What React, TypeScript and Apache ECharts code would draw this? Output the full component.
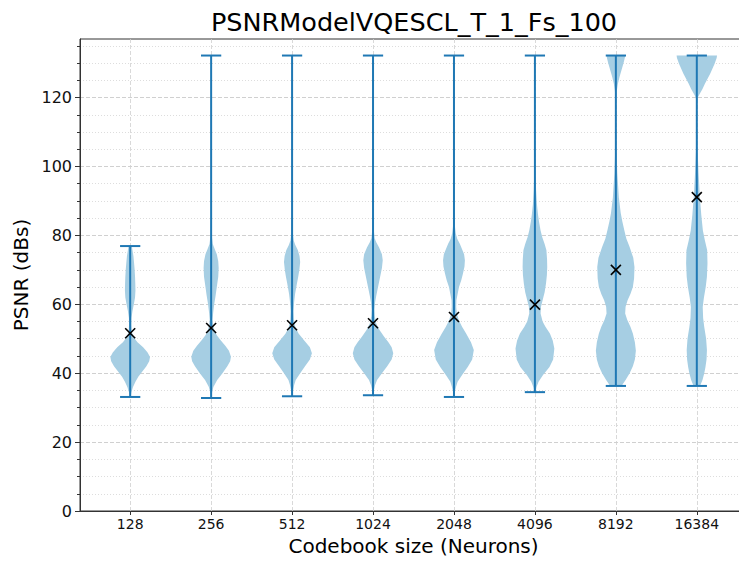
import React, { useEffect, useRef } from "react";
import * as echarts from "echarts";

// ---- data ----
const chartTitle = "PSNRModelVQESCL_T_1_Fs_100";
const categories = ["128", "256", "512", "1024", "2048", "4096", "8192", "16384"];
const positions = [1, 2, 3, 4, 5, 6, 7, 8];
const minValues = [33.1, 32.8, 33.3, 33.6, 33.1, 34.5, 36.3, 36.3];
const maxValues = [76.9, 132.2, 132.2, 132.2, 132.2, 132.2, 132.2, 132.2];
const meanValues = [51.6, 53.1, 53.9, 54.5, 56.3, 59.9, 70.0, 91.1];
const yTickValues = [0, 20, 40, 60, 80, 100, 120];

// density profiles: [PSNR, half width (in category units)]
const profile128 = [[33.1,0.005],[34.5,0.015],[36,0.035],[37.5,0.065],[39,0.1],[40.5,0.15],[42,0.2],[43.5,0.235],[44.7,0.245],[46,0.215],[47.5,0.16],[49,0.09],[50.5,0.04],[52,0.02],[54,0.014],[56,0.016],[58,0.028],[60,0.045],[62,0.06],[64,0.065],[66,0.063],[68,0.06],[70,0.055],[72,0.048],[74,0.04],[75.5,0.03],[76.9,0.02]];
const profile256 = [[32.8,0.004],[34.5,0.012],[36,0.028],[38,0.075],[40,0.14],[42,0.2],[43.5,0.235],[44.8,0.245],[46.5,0.22],[48,0.175],[49.5,0.12],[51,0.07],[52.5,0.04],[54,0.025],[55.5,0.018],[57.5,0.025],[60,0.038],[62.5,0.055],[65,0.07],[68,0.088],[70.5,0.093],[72.5,0.088],[74.5,0.07],[76,0.045],[77.5,0.02],[80,0.008],[85,0.004],[132.2,0.003]];
const profile512 = [[33.3,0.004],[35,0.012],[36.5,0.025],[38,0.045],[40,0.1],[42,0.16],[44,0.22],[45.8,0.245],[47.5,0.22],[49.5,0.15],[51.5,0.08],[53.4,0.04],[55.5,0.022],[58,0.018],[60.5,0.025],[63,0.037],[66,0.06],[68,0.076],[70,0.09],[72.3,0.1],[74,0.092],[75.7,0.072],[77.2,0.04],[78.5,0.02],[81,0.008],[86,0.004],[132.2,0.003]];
const profile1024 = [[33.6,0.004],[35,0.01],[36.5,0.025],[38,0.05],[40,0.11],[42,0.175],[44,0.23],[45.8,0.25],[47.5,0.23],[49,0.19],[50.5,0.14],[52.5,0.08],[54.4,0.04],[56.5,0.022],[58.5,0.018],[60.5,0.025],[62.5,0.04],[65,0.062],[68,0.088],[70.5,0.11],[72.8,0.12],[74.5,0.11],[76.5,0.075],[78,0.04],[79.2,0.02],[82,0.008],[87,0.004],[132.2,0.003]];
const profile2048 = [[33.1,0.004],[34.5,0.01],[36,0.025],[37.5,0.045],[39.5,0.1],[41.8,0.17],[44,0.225],[46.7,0.245],[49,0.21],[51.5,0.15],[53.5,0.1],[55.4,0.06],[57.3,0.035],[59.2,0.028],[61.2,0.03],[63,0.045],[65,0.062],[67,0.09],[69,0.112],[71,0.13],[72.8,0.135],[74.5,0.125],[76,0.1],[77.6,0.072],[79,0.04],[80.6,0.022],[83,0.01],[88,0.005],[132.2,0.003]];
const profile4096 = [[34.5,0.008],[36,0.02],[37.5,0.045],[39.5,0.1],[41.8,0.18],[44,0.225],[47.2,0.24],[49.5,0.22],[51.5,0.185],[53.5,0.13],[55,0.095],[57.3,0.07],[59.3,0.075],[61.2,0.095],[63.5,0.12],[66,0.137],[68.5,0.148],[70.8,0.152],[73,0.15],[75.7,0.142],[77.5,0.12],[79.5,0.09],[81.4,0.07],[84,0.05],[86.3,0.037],[89,0.025],[93,0.015],[98,0.008],[105,0.004],[132.2,0.003]];
const profile8192 = [[36.3,0.07],[38,0.12],[40,0.17],[42,0.21],[44,0.235],[46.5,0.247],[49,0.235],[51.5,0.21],[53.5,0.18],[55.5,0.14],[57.3,0.115],[59.3,0.12],[61.2,0.145],[63,0.18],[65,0.21],[67.5,0.225],[70.8,0.23],[73.5,0.215],[76.6,0.17],[79,0.13],[81.4,0.105],[84,0.08],[86.5,0.06],[91,0.037],[98,0.018],[105,0.008],[112,0.004],[119,0.004],[122,0.012],[124,0.025],[126,0.045],[128,0.07],[130,0.095],[131.5,0.11],[132.2,0.115]];
const profile16384 = [[36.3,0.04],[38,0.07],[40,0.092],[41.8,0.107],[44,0.12],[46.7,0.125],[50,0.115],[53.4,0.092],[56,0.078],[59.2,0.073],[62,0.088],[65,0.11],[68,0.125],[71.9,0.132],[75.7,0.128],[78.5,0.1],[81.4,0.075],[86,0.055],[91,0.038],[98,0.022],[105.6,0.008],[112,0.004],[118,0.004],[120,0.012],[121,0.035],[122.5,0.07],[124,0.1],[126.9,0.165],[129.8,0.22],[131.5,0.245],[132.2,0.25]];
const densityProfiles = [profile128, profile256, profile512, profile1024, profile2048, profile4096, profile8192, profile16384];

const FONT = "DejaVu Sans";
const LINE_BLUE = "#1f78b4";
const FILL_BLUE = "#a6cee3";
const CAP_HALF = 0.125;

export default function App() {
  const ref = useRef<HTMLDivElement>(null);
  useEffect(() => {
    if (!ref.current) return;
    const chart = echarts.init(ref.current, undefined, { renderer: "svg" });

    const violinData = positions.map((p, i) => [p, minValues[i], maxValues[i], meanValues[i]]);

    const renderViolin = (params: any, api: any) => {
      const idx = params.dataIndex;
      const pos = api.value(0);
      const lo = api.value(1);
      const hi = api.value(2);
      const prof = densityProfiles[idx];
      const right = prof.map(([v, w]: number[]) => api.coord([pos + w, v]));
      const left = prof.slice().reverse().map(([v, w]: number[]) => api.coord([pos - w, v]));
      const bottom = api.coord([pos, lo]);
      const top = api.coord([pos, hi]);
      const capL0 = api.coord([pos - CAP_HALF, lo]);
      const capR0 = api.coord([pos + CAP_HALF, lo]);
      const capL1 = api.coord([pos - CAP_HALF, hi]);
      const capR1 = api.coord([pos + CAP_HALF, hi]);
      const lineStyle = { stroke: LINE_BLUE, lineWidth: 2 };
      return {
        type: "group",
        children: [
          { type: "polygon", shape: { points: right.concat(left) }, style: { fill: FILL_BLUE } },
          { type: "line", shape: { x1: bottom[0], y1: bottom[1], x2: top[0], y2: top[1] }, style: lineStyle },
          { type: "line", shape: { x1: capL0[0], y1: capL0[1], x2: capR0[0], y2: capR0[1] }, style: lineStyle },
          { type: "line", shape: { x1: capL1[0], y1: capL1[1], x2: capR1[0], y2: capR1[1] }, style: lineStyle },
        ],
      };
    };

    const renderMean = (params: any, api: any) => {
      const c = api.coord([api.value(0), api.value(3)]);
      const s = 5;
      const st = { stroke: "#000", lineWidth: 1.6 };
      return {
        type: "group",
        children: [
          { type: "line", shape: { x1: c[0] - s, y1: c[1] - s, x2: c[0] + s, y2: c[1] + s }, style: st },
          { type: "line", shape: { x1: c[0] - s, y1: c[1] + s, x2: c[0] + s, y2: c[1] - s }, style: st },
        ],
      };
    };

    chart.setOption({
      animation: false,
      backgroundColor: "#fff",
      textStyle: { fontFamily: FONT },
      graphic: [
        {
          type: "text",
          x: 414,
          y: 9,
          style: { text: chartTitle, font: `25.5px "${FONT}"`, fill: "#000", align: "center", verticalAlign: "top" },
        },
      ],
      grid: {
        left: 80,
        top: 39,
        width: 667,
        height: 472,
        show: true,
        borderColor: "#333",
        borderWidth: 1,
        backgroundColor: "transparent",
        containLabel: false,
        outerBoundsMode: "none",
      },
      xAxis: {
        type: "value",
        min: 0.38,
        max: 8.62,
        name: "Codebook size (Neurons)",
        nameLocation: "middle",
        nameGap: 22,
        nameTextStyle: { fontSize: 20, color: "#000", fontFamily: FONT },
        axisLine: { show: true, onZero: false, lineStyle: { color: "#333", width: 1 } },
        axisTick: { show: true, length: 4, customValues: positions, lineStyle: { color: "#333" } },
        axisLabel: {
          customValues: positions,
          formatter: (v: number) => categories[Math.round(v) - 1] ?? "",
          fontSize: 14,
          color: "#111",
          margin: 6,
          fontFamily: FONT,
        },
        splitLine: { show: true, lineStyle: { type: [4, 2], color: "#cfcfcf", width: 0.8 } },
      },
      yAxis: {
        type: "value",
        min: 0,
        max: 137,
        interval: 20,
        name: "PSNR (dBs)",
        nameLocation: "middle",
        nameGap: 45,
        nameTextStyle: { fontSize: 20, color: "#000", fontFamily: FONT },
        axisLine: { show: true, lineStyle: { color: "#333", width: 1 } },
        axisTick: { show: true, length: 5, customValues: yTickValues, lineStyle: { color: "#333" } },
        minorTick: { show: true, splitNumber: 4, length: 3, lineStyle: { color: "#333" } },
        axisLabel: {
          customValues: yTickValues,
          fontSize: 16,
          color: "#111",
          margin: 8,
          fontFamily: FONT,
        },
        splitLine: { show: true, lineStyle: { type: [4, 2], color: "#c4c4c4", width: 0.8 } },
        minorSplitLine: { show: true, lineStyle: { type: [1, 2], color: "#d4d4d4", width: 0.8 } },
      },
      series: [
        { type: "custom", name: "violins", renderItem: renderViolin, data: violinData, encode: { x: 0, y: [1, 2] }, z: 2 },
        { type: "custom", name: "means", renderItem: renderMean, data: violinData, encode: { x: 0, y: 3 }, z: 3 },
      ],
    });
    return () => chart.dispose();
  }, []);
  return <div ref={ref} style={{ position: "fixed", left: 0, top: 0, width: 739, height: 561 }} />;
}
